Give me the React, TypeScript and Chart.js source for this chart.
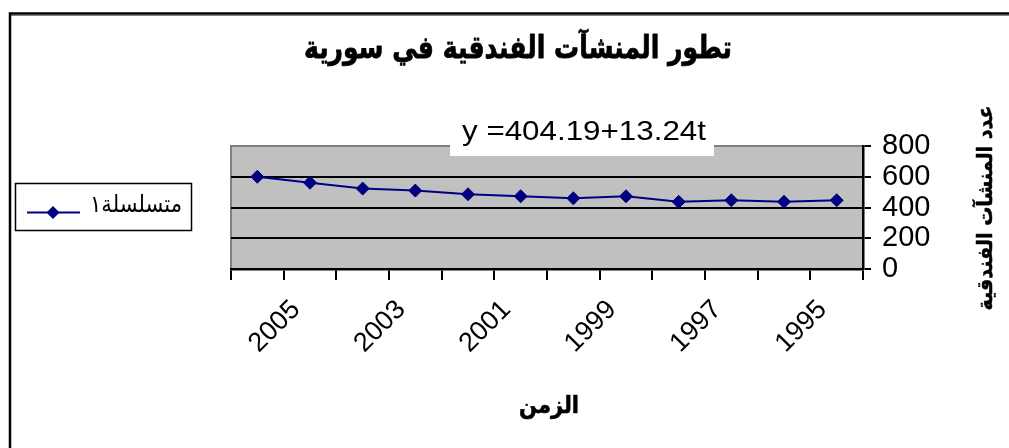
import React, { useEffect, useRef } from 'react';
import { Chart, registerables } from 'chart.js';

Chart.register(...registerables);

// ---- data ----
const categories = ['2006', '2005', '2004', '2003', '2002', '2001', '2000', '1999', '1998', '1997', '1996', '1995'];
const seriesValues = [600, 561, 523, 510, 486, 473, 460, 473, 437, 447, 437, 447];
const seriesName = 'متسلسلة١';
const yTickMin = 0;
const yTickMax = 800;
const yTickStep = 200;
const chartTitle = 'تطور المنشآت الفندقية في سورية';
const xAxisTitle = 'الزمن';
const yAxisTitle = 'عدد المنشآت الفندقية';
const equationText = 'y =404.19+13.24t';

const AR = "'DejaVu Sans', sans-serif";
const LAT = "'Liberation Sans', Arial, sans-serif";

function drawFitted(
  ctx: CanvasRenderingContext2D,
  text: string,
  weight: string,
  family: string,
  size: number,
  target: number,
  x: number,
  y: number,
  rot = 0,
  thicken = 0
) {
  ctx.save();
  ctx.font = `${weight} ${size}px ${family}`;
  const w = ctx.measureText(text).width;
  ctx.translate(x, y);
  if (rot) ctx.rotate(rot);
  ctx.scale(target / w, 1);
  ctx.fillText(text, 0, 0);
  if (thicken > 0) {
    ctx.lineWidth = thicken;
    ctx.strokeStyle = ctx.fillStyle as string;
    ctx.lineJoin = 'round';
    ctx.strokeText(text, 0, 0);
  }
  ctx.restore();
}

const decorPlugin = {
  id: 'decor',
  beforeDraw(chart: any) {
    const { ctx, chartArea: a } = chart;
    ctx.save();
    ctx.fillStyle = '#ffffff';
    ctx.fillRect(0, 0, chart.width, chart.height);
    ctx.fillStyle = '#C0C0C0';
    ctx.fillRect(a.left, a.top, a.right - a.left, a.bottom - a.top);
    ctx.strokeStyle = '#808080';
    ctx.lineWidth = 2;
    ctx.beginPath();
    ctx.moveTo(a.left, a.bottom);
    ctx.lineTo(a.left, a.top);
    ctx.lineTo(a.right, a.top);
    ctx.stroke();
    ctx.restore();
  },
  afterDraw(chart: any) {
    const { ctx } = chart;
    ctx.save();
    // outer frame (top and left)
    ctx.strokeStyle = '#808080';
    ctx.lineWidth = 1;
    ctx.beginPath();
    ctx.moveTo(11, 15.5);
    ctx.lineTo(1009, 15.5);
    ctx.stroke();
    ctx.strokeStyle = '#000000';
    ctx.lineWidth = 2.5;
    ctx.beginPath();
    ctx.moveTo(10, 448);
    ctx.lineTo(10, 13.5);
    ctx.lineTo(1009, 13.5);
    ctx.stroke();

    ctx.fillStyle = '#000';
    ctx.textAlign = 'center';
    ctx.textBaseline = 'middle';
    // title
    drawFitted(ctx, chartTitle, 'bold', AR, 31, 428, 518, 50, 0, 0.8);

    // equation box
    ctx.fillStyle = '#ffffff';
    ctx.fillRect(450, 106, 264, 50);
    ctx.fillStyle = '#000';
    ctx.textBaseline = 'alphabetic';
    drawFitted(ctx, equationText, 'normal', LAT, 28, 244, 584, 140);

    // x axis title
    ctx.textBaseline = 'middle';
    drawFitted(ctx, xAxisTitle, 'bold', AR, 24, 60, 549, 407, 0, 0.6);

    // y axis title (rotated)
    drawFitted(ctx, yAxisTitle, 'bold', AR, 21, 205, 987, 208, -Math.PI / 2, 0.5);

    // legend
    const ds = chart.data.datasets[0];
    ctx.strokeStyle = '#000';
    ctx.lineWidth = 1.5;
    ctx.strokeRect(15.5, 183.5, 176, 47);
    ctx.strokeStyle = ds.borderColor;
    ctx.lineWidth = 2;
    ctx.beginPath();
    ctx.moveTo(27, 212.5);
    ctx.lineTo(80, 212.5);
    ctx.stroke();
    ctx.fillStyle = ds.pointBackgroundColor;
    ctx.beginPath();
    ctx.moveTo(53 - 6.5, 212.5);
    ctx.lineTo(53, 212.5 - 6.5);
    ctx.lineTo(53 + 6.5, 212.5);
    ctx.lineTo(53, 212.5 + 6.5);
    ctx.closePath();
    ctx.fill();
    ctx.fillStyle = '#000';
    ctx.textAlign = 'center';
    ctx.textBaseline = 'middle';
    drawFitted(ctx, ds.label, 'normal', AR, 24, 92, 136, 206);
    ctx.restore();
  },
};

export default function App() {
  const ref = useRef<HTMLCanvasElement | null>(null);
  useEffect(() => {
    if (!ref.current) return;
    const chart = new Chart(ref.current, {
      type: 'line',
      data: {
        labels: categories,
        datasets: [
          {
            label: seriesName,
            data: seriesValues,
            borderColor: '#000080',
            backgroundColor: '#000080',
            pointBackgroundColor: '#000080',
            pointBorderColor: '#000080',
            pointBorderWidth: 1,
            pointStyle: 'rectRot',
            pointRadius: 6.5,
            borderWidth: 2,
            tension: 0,
          },
        ],
      },
      options: {
        responsive: false,
        animation: false,
        layout: { padding: { left: 231, top: 146, right: 0, bottom: 0 } },
        plugins: {
          legend: { display: false },
          title: { display: false },
          tooltip: { enabled: false },
        },
        scales: {
          x: {
            type: 'category',
            offset: true,
            afterFit: (s: any) => {
              s.height = 179;
            },
            grid: {
              offset: true,
              drawOnChartArea: false,
              drawTicks: true,
              tickLength: 11,
              color: '#000',
              lineWidth: 2,
            },
            border: { display: true, color: '#000', width: 2.5 },
            ticks: {
              autoSkip: false,
              maxRotation: 45,
              minRotation: 45,
              padding: 14,
              labelOffset: -14,
              color: '#000',
              font: { family: LAT, size: 27 },
              callback: (_v: any, i: number) => (i % 2 === 1 ? categories[i] : ''),
            },
          },
          y: {
            position: 'right',
            min: yTickMin,
            max: yTickMax,
            afterFit: (s: any) => {
              s.width = 146;
            },
            grid: {
              drawOnChartArea: true,
              drawTicks: true,
              tickLength: 8,
              color: (c: any) => (c.tick && c.tick.value === yTickMax ? '#808080' : '#000'),
              tickColor: '#000',
              lineWidth: 2,
            },
            border: { display: true, color: '#000', width: 2.5 },
            ticks: {
              stepSize: yTickStep,
              autoSkip: false,
              padding: 11,
              color: '#000',
              font: { family: LAT, size: 29 },
            },
          },
        },
      },
      plugins: [decorPlugin],
    });
    return () => chart.destroy();
  }, []);
  return (
    <div style={{ position: 'absolute', left: 0, top: 0, width: 1009, height: 448 }}>
      <canvas ref={ref} width={1009} height={448} style={{ width: 1009, height: 448, display: 'block' }} />
    </div>
  );
}
